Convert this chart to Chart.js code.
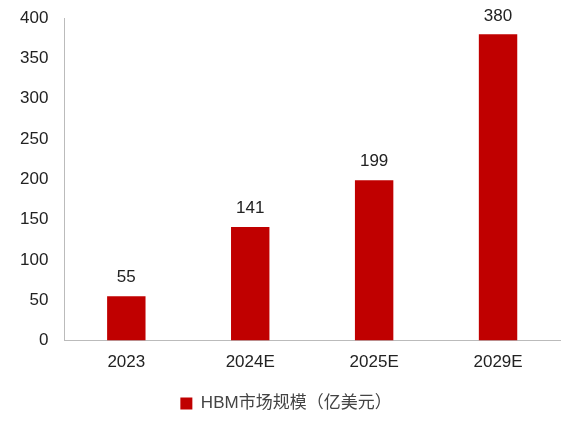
<!DOCTYPE html>
<html>
<head>
<meta charset="utf-8">
<script src="https://cdn.jsdelivr.net/npm/chart.js@4"></script>
<style>
  body { margin: 0; background: #fff; }
  #wrap { width: 588px; height: 429px; }
</style>
</head>
<body>
<div id="wrap"><canvas id="c"></canvas></div>
<script>
const categories = ['2023', '2024E', '2025E', '2029E'];
const values = [55, 141, 199, 380];
const seriesName = 'HBM市场规模（亿美元）';

// draws the number above each bar
const barLabels = {
  id: 'barLabels',
  afterDatasetsDraw(chart) {
    const ctx = chart.ctx;
    const meta = chart.getDatasetMeta(0);
    ctx.save();
    ctx.font = '17px "Liberation Sans", Arial, sans-serif';
    ctx.fillStyle = '#222';
    ctx.textAlign = 'center';
    ctx.textBaseline = 'bottom';
    meta.data.forEach((bar, i) => {
      ctx.fillText(values[i], bar.x, bar.y - 10);
    });
    ctx.restore();
  }
};

new Chart(document.getElementById('c'), {
  type: 'bar',
  data: {
    labels: categories,
    datasets: [{
      label: seriesName,
      data: values,
      backgroundColor: '#C00000',
      barPercentage: 0.31,
      categoryPercentage: 1
    }]
  },
  options: {
    responsive: true,
    maintainAspectRatio: false,
    animation: false,
    layout: { padding: { top: 5, right: 28, left: 12, bottom: 7 } },
    plugins: {
      legend: {
        position: 'bottom',
        labels: {
          boxWidth: 12, boxHeight: 12,
          color: '#444',
          font: { size: 17, family: '"Liberation Sans", "Noto Sans CJK SC", sans-serif' }
        }
      },
      tooltip: { enabled: false }
    },
    scales: {
      x: {
        grid: { display: false, drawTicks: false },
        border: { color: '#bbb' },
        ticks: { color: '#222', padding: 12, font: { size: 17, family: '"Liberation Sans", sans-serif' } }
      },
      y: {
        min: 0, max: 400,
        grid: { display: false },
        border: { color: '#bbb' },
        ticks: { stepSize: 50, color: '#222', padding: 8, font: { size: 17, family: '"Liberation Sans", sans-serif' } }
      }
    }
  },
  plugins: [barLabels]
});
</script>
</body>
</html>
